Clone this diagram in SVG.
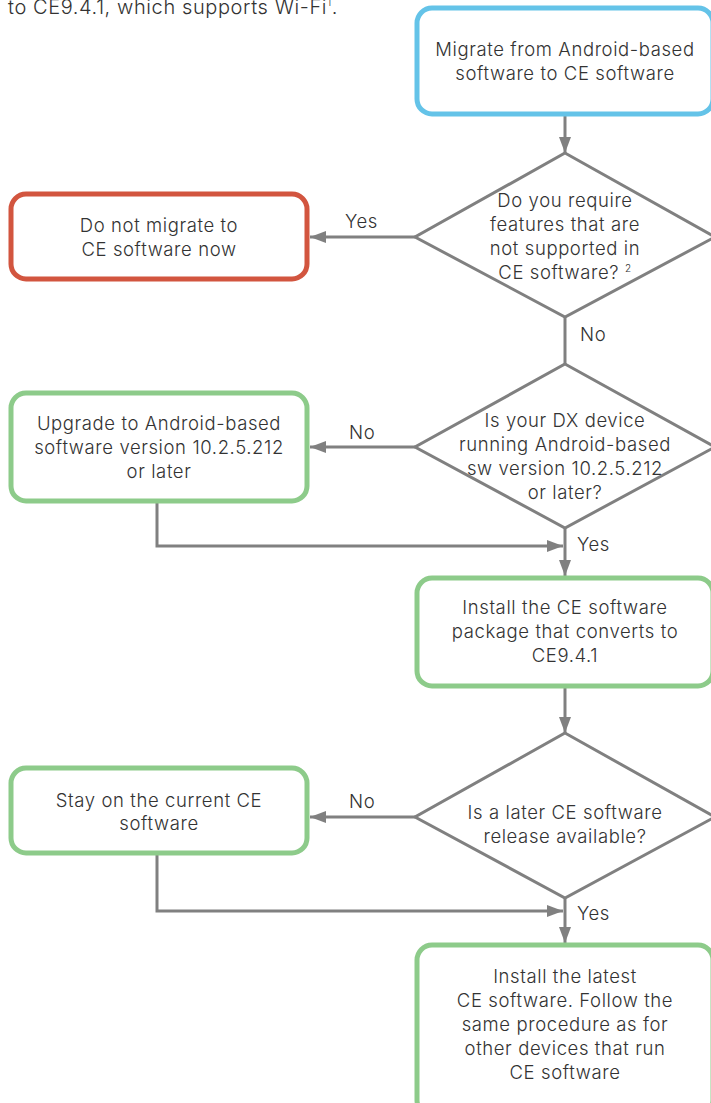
<svg xmlns="http://www.w3.org/2000/svg" width="711" height="1103" viewBox="0 0 711 1103">
<style>
text{font-family:Inter,Roboto,"Liberation Sans",sans-serif;font-weight:300;font-size:18.5px;letter-spacing:0.6px;fill:#333;}
.c{text-anchor:middle;}
.box{fill:#fff;stroke-width:5;}
.blue{stroke:#64C3E8;}
.red{stroke:#D2553F;}
.green{stroke:#8DCB8A;}
.dia{fill:#fff;stroke:#808080;stroke-width:3;}
.ln{fill:none;stroke:#808080;stroke-width:3;}
</style>
<defs>
<marker id="ah" markerUnits="userSpaceOnUse" markerWidth="16" markerHeight="12" refX="16" refY="6" orient="auto">
<path d="M0,0 L16,6 L0,12 z" fill="#808080"/>
</marker>
</defs>
<text x="8" y="14" style="font-size:20px">to CE9.4.1, which supports Wi-Fi<tspan font-size="10" dy="-8">1</tspan><tspan dy="8">.</tspan></text>
<g id="connectors">
<path class="ln" d="M565,116 L565,153" marker-end="url(#ah)"/>
<path class="ln" d="M415,237 L310,237" marker-end="url(#ah)"/>
<path class="ln" d="M565,317 L565,364"/>
<path class="ln" d="M415,447 L310,447" marker-end="url(#ah)"/>
<path class="ln" d="M157,503 L157,546 L563,546" marker-end="url(#ah)"/>
<path class="ln" d="M565,528 L565,576" marker-end="url(#ah)"/>
<path class="ln" d="M565,687 L565,733" marker-end="url(#ah)"/>
<path class="ln" d="M415,817 L310,817" marker-end="url(#ah)"/>
<path class="ln" d="M157,855 L157,911 L563,911" marker-end="url(#ah)"/>
<path class="ln" d="M565,898 L565,943" marker-end="url(#ah)"/>
<text x="345" y="228">Yes</text>
<text x="580" y="341">No</text>
<text x="349" y="439">No</text>
<text x="577" y="551">Yes</text>
<text x="349" y="808">No</text>
<text x="577" y="920">Yes</text>
</g>
<g id="start">
<rect class="box blue" x="417" y="8" width="296" height="106" rx="15"/>
<text class="c" x="565" y="56">Migrate from Android-based</text>
<text class="c" x="565" y="80">software to CE software</text>
</g>
<g id="q1">
<path class="dia" d="M565,153 L715,237 L565,317 L415,237 z"/>
<text class="c" x="565" y="207">Do you require</text>
<text class="c" x="565" y="231">features that are</text>
<text class="c" x="565" y="255">not supported in</text>
<text class="c" x="565" y="279">CE software? <tspan font-size="10" dy="-7">2</tspan></text>
</g>
<g id="nomigrate">
<rect class="box red" x="11" y="194" width="296" height="85" rx="15"/>
<text class="c" x="159" y="232">Do not migrate to</text>
<text class="c" x="159" y="256">CE software now</text>
</g>
<g id="q2">
<path class="dia" d="M565,364 L715,447 L565,528 L415,447 z"/>
<text class="c" x="565" y="427">Is your DX device</text>
<text class="c" x="565" y="451">running Android-based</text>
<text class="c" x="565" y="475">sw version 10.2.5.212</text>
<text class="c" x="565" y="499">or later?</text>
</g>
<g id="upgrade">
<rect class="box green" x="11" y="393" width="296" height="108" rx="15"/>
<text class="c" x="159" y="430">Upgrade to Android-based</text>
<text class="c" x="159" y="454">software version 10.2.5.212</text>
<text class="c" x="159" y="478">or later</text>
</g>
<g id="install">
<rect class="box green" x="417" y="578" width="296" height="108" rx="15"/>
<text class="c" x="565" y="614">Install the CE software</text>
<text class="c" x="565" y="638">package that converts to</text>
<text class="c" x="565" y="662">CE9.4.1</text>
</g>
<g id="q3">
<path class="dia" d="M565,733 L715,817 L565,898 L415,817 z"/>
<text class="c" x="565" y="819">Is a later CE software</text>
<text class="c" x="565" y="843">release available?</text>
</g>
<g id="stay">
<rect class="box green" x="11" y="768" width="296" height="85" rx="15"/>
<text class="c" x="159" y="807">Stay on the current CE</text>
<text class="c" x="159" y="830">software</text>
</g>
<g id="latest">
<rect class="box green" x="417" y="945" width="296" height="170" rx="15"/>
<text class="c" x="565" y="983">Install the latest</text>
<text class="c" x="565" y="1007">CE software. Follow the</text>
<text class="c" x="565" y="1031">same procedure as for</text>
<text class="c" x="565" y="1055">other devices that run</text>
<text class="c" x="565" y="1079">CE software</text>
</g>
</svg>
